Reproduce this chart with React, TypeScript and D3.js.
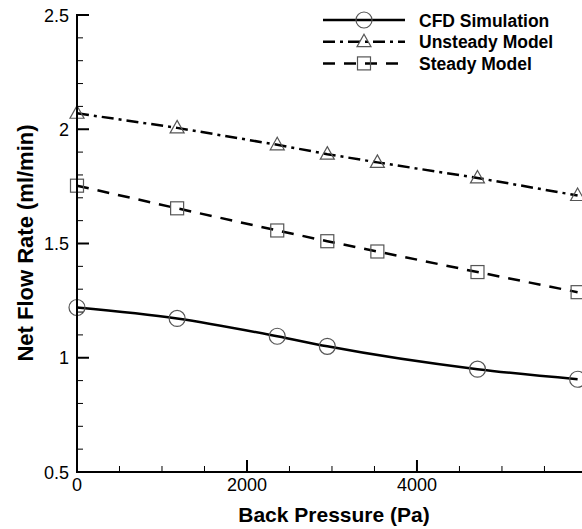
import React from 'react';
import * as d3 from 'd3';

// back pressure (Pa)
const pressure = [0, 1178, 2356, 2945, 3534, 4712, 5890];
const cfdPressure = [0, 1178, 2356, 2945, 4712, 5890];
const cfdFlow = [1.22, 1.172, 1.094, 1.05, 0.95, 0.906];
const unsteadyFlow = [2.07, 2.006, 1.932, 1.891, 1.855, 1.787, 1.71];
const steadyFlow = [1.753, 1.654, 1.557, 1.51, 1.465, 1.375, 1.287];
const xTicks = [0, 2000, 4000];
const yTicks = [0.5, 1, 1.5, 2, 2.5];
const legendLabels = ['CFD Simulation', 'Unsteady Model', 'Steady Model'];

const W = 582;
const H = 529;
const font = 'Liberation Sans, Arial, sans-serif';

export default function App() {
  const x = d3.scaleLinear().domain([0, 5930]).range([77, 581]);
  const y = d3.scaleLinear().domain([0.5, 2.5]).range([472, 15]);

  const smooth = d3.line<[number, number]>()
    .x(d => x(d[0])).y(d => y(d[1]))
    .curve(d3.curveMonotoneX);
  const straight = d3.line<[number, number]>()
    .x(d => x(d[0])).y(d => y(d[1]));

  const cfd = cfdPressure.map((p, i) => [p, cfdFlow[i]] as [number, number]);
  const unsteady = pressure.map((p, i) => [p, unsteadyFlow[i]] as [number, number]);
  const steady = pressure.map((p, i) => [p, steadyFlow[i]] as [number, number]);

  const xMinor = d3.range(0, 5930, 500).filter(v => v % 2000 !== 0);
  const yMinor = d3.range(0.5, 2.5001, 0.1).filter(v => Math.abs(v * 2 - Math.round(v * 2)) > 0.01);

  const markerStroke = '#555';
  const tri = (cx: number, cy: number) =>
    `M${cx},${cy - 7.5} L${cx + 7},${cy + 5} L${cx - 7},${cy + 5} Z`;

  const dashes = [undefined, '12,5,3,5', '12,9'];

  const marker = (kind: number, cx: number, cy: number, key: string | number) => {
    if (kind === 0) return <circle key={key} cx={cx} cy={cy} r={8} fill="none" stroke={markerStroke} strokeWidth={1.2} />;
    if (kind === 1) return <path key={key} d={tri(cx, cy)} fill="none" stroke={markerStroke} strokeWidth={1.2} />;
    return <rect key={key} x={cx - 6.5} y={cy - 6.5} width={13} height={13} fill="none" stroke={markerStroke} strokeWidth={1.2} />;
  };

  return (
    <svg width={W} height={H} style={{ position: 'absolute', left: 0, top: 0 }}>
      <rect width={W} height={H} fill="#fff" />
      {/* series lines */}
      <path d={smooth(cfd) || ''} fill="none" stroke="#000" strokeWidth={2.5} />
      <path d={straight(unsteady) || ''} fill="none" stroke="#000" strokeWidth={2.5} strokeDasharray={dashes[1]} />
      <path d={straight(steady) || ''} fill="none" stroke="#000" strokeWidth={2.5} strokeDasharray={dashes[2]} />
      {cfd.map((d, i) => marker(0, x(d[0]), y(d[1]), 'c' + i))}
      {unsteady.map((d, i) => marker(1, x(d[0]), y(d[1]), 'u' + i))}
      {steady.map((d, i) => marker(2, x(d[0]), y(d[1]), 's' + i))}

      {/* axes */}
      <line x1={77} x2={77} y1={14} y2={473} stroke="#000" strokeWidth={2} />
      <line x1={76} x2={582} y1={472} y2={472} stroke="#000" strokeWidth={2} />
      {xTicks.map(t => (
        <g key={'xt' + t}>
          <line x1={x(t)} x2={x(t)} y1={472} y2={460} stroke="#000" strokeWidth={2} />
          <text x={x(t)} y={491} textAnchor="middle" fontFamily={font} fontSize={18}>{t}</text>
        </g>
      ))}
      {xMinor.map(t => (
        <line key={'xm' + t} x1={x(t)} x2={x(t)} y1={472} y2={466} stroke="#000" strokeWidth={1} />
      ))}
      {yTicks.map(t => (
        <g key={'yt' + t}>
          <line x1={77} x2={89} y1={y(t)} y2={y(t)} stroke="#000" strokeWidth={2} />
          <text x={69} y={y(t) + 6.5} textAnchor="end" fontFamily={font} fontSize={18}>{t}</text>
        </g>
      ))}
      {yMinor.map(t => (
        <line key={'ym' + t} x1={77} x2={83} y1={y(t)} y2={y(t)} stroke="#000" strokeWidth={1} />
      ))}

      <text x={334} y={522} textAnchor="middle" fontFamily={font} fontSize={21} fontWeight="bold">Back Pressure (Pa)</text>
      <text transform="translate(33,243) rotate(-90)" textAnchor="middle" fontFamily={font} fontSize={22} fontWeight="bold">Net Flow Rate (ml/min)</text>

      {/* legend */}
      {legendLabels.map((lab, i) => {
        const ly = 20 + i * 21.7;
        return (
          <g key={lab}>
            <line x1={323} x2={405} y1={ly} y2={ly} stroke="#000" strokeWidth={2.5} strokeDasharray={dashes[i]} />
            {marker(i, 364, ly, 'l' + i)}
            <text x={419} y={ly + 6.5} fontFamily={font} fontSize={17.5} fontWeight="bold">{lab}</text>
          </g>
        );
      })}
    </svg>
  );
}
